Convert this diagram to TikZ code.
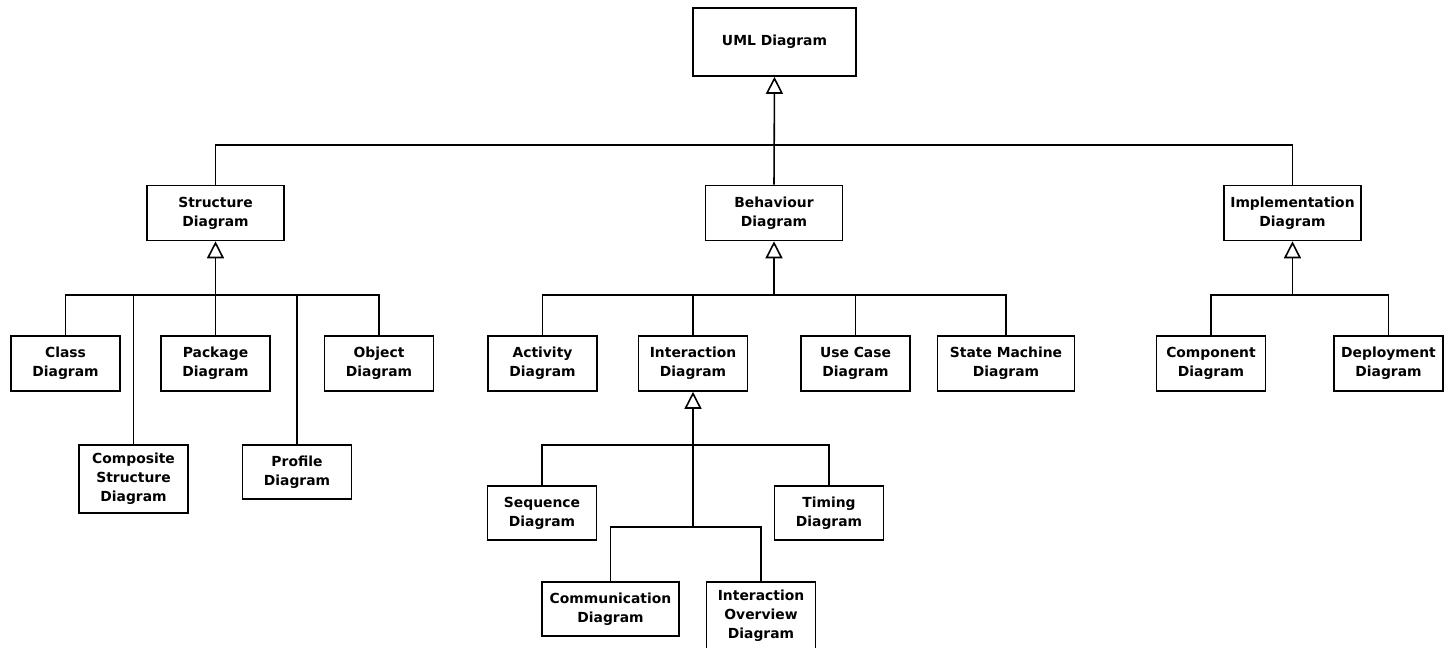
\documentclass[tikz,border=0pt]{standalone}
\usepackage{fontspec}
\setmainfont{DejaVu Sans}
\usetikzlibrary{arrows.meta,positioning}

\begin{document}
\begin{tikzpicture}[x=0.02cm,y=-0.02cm]
                \tikzstyle{diag} = [rectangle, draw=black, line width=0.9pt, fill=white, minimum width=2.18cm, minimum height=1.1cm, align=center, font=\fontsize{7.9}{10.8}\selectfont\bfseries, inner sep=1pt]
                \tikzstyle{wide} = [minimum width=2.74cm]
                \tikzstyle{tall} = [minimum height=1.36cm]
                \tikzstyle{link} = [line width=0.9pt]
                \tikzstyle{gen} = [line width=0.9pt, -{Triangle[open,length=0.34cm,width=0.34cm,line width=0.9pt]}]
                \clip (0,0) rectangle (1448,647);
                \fill[white] (0,0) rectangle (1448,647);
                % top level
                \node (uml) [diag, minimum width=3.26cm, tall] at (774.5,42) {UML Diagram};
                \node (struct) [diag, wide] at (215.5,213) {Structure\\Diagram};
                \node (behav) [diag, wide] at (774,213) {Behaviour\\Diagram};
                \node (impl) [diag, wide] at (1292.5,213) {Implementation\\Diagram};
                % structure diagrams
                \node (class) [diag] at (65.5,363.5) {Class\\Diagram};
                \node (package) [diag] at (215.5,363.5) {Package\\Diagram};
                \node (object) [diag] at (379,363.5) {Object\\Diagram};
                \node (composite) [diag, tall] at (133.5,479) {Composite\\Structure\\Diagram};
                \node (profile) [diag, minimum height=1.08cm] at (297,472) {Profile\\Diagram};
                % behaviour diagrams
                \node (activity) [diag] at (542.5,363.5) {Activity\\Diagram};
                \node (interact) [diag] at (693,363.5) {Interaction\\Diagram};
                \node (usecase) [diag] at (855.5,363.5) {Use Case\\Diagram};
                \node (statemach) [diag, wide] at (1006,363.5) {State Machine\\Diagram};
                % interaction diagrams
                \node (sequence) [diag, minimum height=1.08cm] at (542,513) {Sequence\\Diagram};
                \node (timing) [diag, minimum height=1.08cm] at (829,513) {Timing\\Diagram};
                \node (comm) [diag, wide, minimum height=1.08cm] at (610.5,609) {Communication\\Diagram};
                \node (overview) [diag, tall] at (761,616) {Interaction\\Overview\\Diagram};
                % implementation diagrams
                \node (component) [diag] at (1211,363.5) {Component\\Diagram};
                \node (deploy) [diag] at (1388.5,363.5) {Deployment\\Diagram};

                \coordinate (topbus) at (774,145);
                \coordinate (sbus) at (215.5,295);
                \coordinate (bbus) at (774,295);
                \coordinate (ibus) at (693,445);
                \coordinate (ibus2) at (693,527);
                \coordinate (impbus) at (1292.5,295);

                \draw [link] (struct.north) |- (topbus);
                \draw [link] (impl.north) |- (topbus);
                \draw [gen] (behav.north) -- (uml.south);

                \draw [link] (class.north) |- (sbus);
                \draw [link] (object.north) |- (sbus);
                \draw [link] (composite.north) -- (composite.north |- sbus);
                \draw [link] (profile.north) -- (profile.north |- sbus);
                \draw [gen] (package.north) -- (struct.south);

                \draw [link] (activity.north) |- (bbus);
                \draw [link] (statemach.north) |- (bbus);
                \draw [link] (interact.north) -- (interact.north |- bbus);
                \draw [link] (usecase.north) -- (usecase.north |- bbus);
                \draw [gen] (bbus) -- (behav.south);

                \draw [link] (sequence.north) |- (ibus);
                \draw [link] (timing.north) |- (ibus);
                \draw [link] (comm.north) |- (ibus2);
                \draw [link] (overview.north) |- (ibus2);
                \draw [gen] (ibus2) -- (interact.south);

                \draw [link] (component.north) |- (impbus);
                \draw [link] (deploy.north) |- (impbus);
                \draw [gen] (impbus) -- (impl.south);
\end{tikzpicture}
\end{document}
